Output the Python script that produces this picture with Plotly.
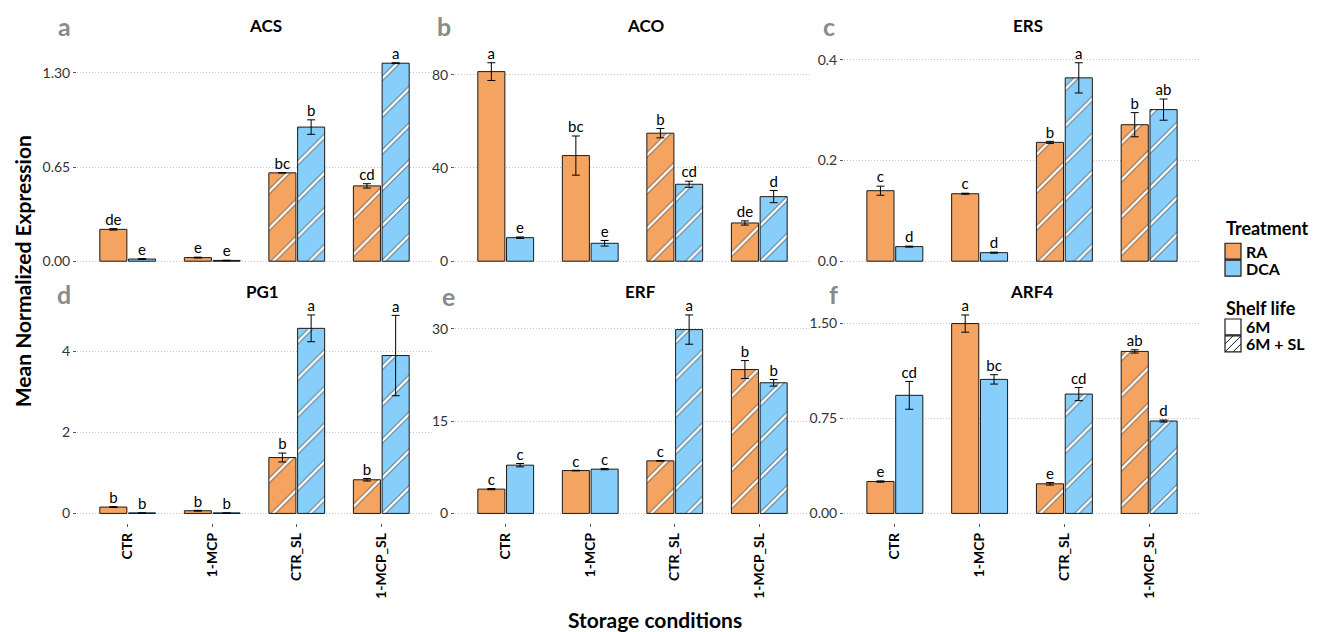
import plotly.graph_objects as go

# ---------------- data ----------------
categories = ["CTR", "1-MCP", "CTR_SL", "1-MCP_SL"]
shelf_life = ["6M", "6M", "6M + SL", "6M + SL"]
genes = ["ACS", "ACO", "ERS", "PG1", "ERF", "ARF4"]
panel_tags = ["a", "b", "c", "d", "e", "f"]

acs_ra = [0.22, 0.025, 0.61, 0.52]
acs_ra_err = [0.005, 0.003, 0.0, 0.015]
acs_dca = [0.015, 0.005, 0.926, 1.367]
acs_dca_err = [0.003, 0.002, 0.05, 0.003]
acs_ra_let = ["de", "e", "bc", "cd"]
acs_dca_let = ["e", "e", "b", "a"]

aco_ra = [81.3, 45.3, 54.9, 16.4]
aco_ra_err = [3.8, 8.4, 2.0, 0.9]
aco_dca = [10.1, 7.7, 33.0, 27.7]
aco_dca_err = [0.3, 1.2, 1.3, 2.6]
aco_ra_let = ["a", "bc", "b", "de"]
aco_dca_let = ["e", "e", "cd", "d"]

ers_ra = [0.140, 0.134, 0.236, 0.271]
ers_ra_err = [0.009, 0.001, 0.002, 0.024]
ers_dca = [0.029, 0.017, 0.364, 0.301]
ers_dca_err = [0.001, 0.001, 0.030, 0.021]
ers_ra_let = ["c", "c", "b", "b"]
ers_dca_let = ["d", "d", "a", "ab"]

pg1_ra = [0.157, 0.066, 1.377, 0.829]
pg1_ra_err = [0.01, 0.01, 0.11, 0.03]
pg1_dca = [0.01, 0.01, 4.56, 3.89]
pg1_dca_err = [0.002, 0.002, 0.33, 0.99]
pg1_ra_let = ["b", "b", "b", "b"]
pg1_dca_let = ["b", "b", "a", "a"]

erf_ra = [3.95, 6.97, 8.55, 23.4]
erf_ra_err = [0.1, 0.05, 0.05, 1.46]
erf_dca = [7.85, 7.2, 29.9, 21.25]
erf_dca_err = [0.27, 0.1, 2.38, 0.54]
erf_ra_let = ["c", "c", "c", "b"]
erf_dca_let = ["c", "c", "a", "b"]

arf4_ra = [0.252, 1.50, 0.234, 1.28]
arf4_ra_err = [0.005, 0.068, 0.01, 0.013]
arf4_dca = [0.933, 1.059, 0.943, 0.73]
arf4_dca_err = [0.11, 0.037, 0.052, 0.008]
arf4_ra_let = ["e", "a", "e", "ab"]
arf4_dca_let = ["cd", "bc", "cd", "d"]

ytick_vals = {
    "ACS": [0, 0.65, 1.30], "ACO": [0, 40, 80], "ERS": [0, 0.2, 0.4],
    "PG1": [0, 2, 4], "ERF": [0, 15, 30], "ARF4": [0, 0.75, 1.50],
}
ytick_text = {
    "ACS": ["0.00", "0.65", "1.30"], "ACO": ["0", "40", "80"], "ERS": ["0.0", "0.2", "0.4"],
    "PG1": ["0", "2", "4"], "ERF": ["0", "15", "30"], "ARF4": ["0.00", "0.75", "1.50"],
}

panel_data = {
    "ACS": (acs_ra, acs_ra_err, acs_dca, acs_dca_err, acs_ra_let, acs_dca_let),
    "ACO": (aco_ra, aco_ra_err, aco_dca, aco_dca_err, aco_ra_let, aco_dca_let),
    "ERS": (ers_ra, ers_ra_err, ers_dca, ers_dca_err, ers_ra_let, ers_dca_let),
    "PG1": (pg1_ra, pg1_ra_err, pg1_dca, pg1_dca_err, pg1_ra_let, pg1_dca_let),
    "ERF": (erf_ra, erf_ra_err, erf_dca, erf_dca_err, erf_ra_let, erf_dca_let),
    "ARF4": (arf4_ra, arf4_ra_err, arf4_dca, arf4_dca_err, arf4_ra_let, arf4_dca_let),
}

# ---------------- style ----------------
W, H = 1321, 632
FONT = "Lato, 'Open Sans', sans-serif"
COL_RA = "#F4A460"
COL_DCA = "#87CEFA"
OUTLINE = "#1a1a1a"
TXT = "#333333"
BAR_W = 0.32
OFF = 0.17
PAT_SIZE = 26


def px(x):
    return x / W


def py(y):
    return 1 - y / H


col_x = [(77, 432), (455, 810), (844, 1200)]
row_y = [(51, 270), (304, 523)]

fig = go.Figure()
layout = dict(
    width=W, height=H, autosize=False,
    margin=dict(l=0, r=0, t=0, b=0),
    paper_bgcolor="white", plot_bgcolor="white",
    barmode="overlay", showlegend=False,
    font=dict(family=FONT, color=TXT),
)

annotations = []
shapes = []

for k, gene in enumerate(genes):
    r, c = divmod(k, 3)
    ax = "" if k == 0 else str(k + 1)
    xa, ya = "x" + ax, "y" + ax
    ra, ra_err, dca, dca_err, ra_let, dca_let = panel_data[gene]
    shapes_pat = ["" if s == "6M" else "/" for s in shelf_life]
    ymax = max([v + e for v, e in zip(ra, ra_err)] + [v + e for v, e in zip(dca, dca_err)])

    for vals, errs, lets, color, sgn in [
        (ra, ra_err, ra_let, COL_RA, -1),
        (dca, dca_err, dca_let, COL_DCA, 1),
    ]:
        xs = [i + sgn * OFF for i in range(len(categories))]
        # base bar: fill colour + dark stripe (edges of the hatch)
        fig.add_trace(go.Bar(
            x=xs, y=vals, width=BAR_W, xaxis=xa, yaxis=ya,
            marker=dict(color=color, line=dict(width=0),
                        pattern=dict(shape=shapes_pat, fgcolor="#333333", bgcolor=color,
                                     size=PAT_SIZE, solidity=0.17, fillmode="overlay")),
            hoverinfo="skip",
        ))
        # top bar: white stripe core, outline, error bars
        fig.add_trace(go.Bar(
            x=xs, y=vals, width=BAR_W, xaxis=xa, yaxis=ya,
            marker=dict(color="rgba(0,0,0,0)", line=dict(width=1, color=OUTLINE),
                        pattern=dict(shape=shapes_pat, fgcolor="white",
                                     bgcolor="rgba(0,0,0,0)", size=PAT_SIZE,
                                     solidity=0.09, fillmode="replace")),
            error_y=dict(type="data", array=errs, visible=True, color="black",
                         thickness=1, width=4),
            hoverinfo="skip",
        ))
        fig.add_trace(go.Scatter(
            x=xs, y=[v + e for v, e in zip(vals, errs)], xaxis=xa, yaxis=ya,
            mode="text", text=lets, textposition="top center",
            textfont=dict(size=15, color="black", family=FONT),
            cliponaxis=False, hoverinfo="skip",
        ))

    x0, x1 = col_x[c]
    y0, y1 = row_y[r]
    layout["xaxis" + ax] = dict(
        domain=[px(x0), px(x1)], anchor=ya, range=[-0.6, 3.6],
        tickvals=list(range(len(categories))), ticktext=categories,
        showticklabels=(r == 1), ticks="outside" if r == 1 else "",
        ticklen=3, tickcolor="#555", tickangle=-90,
        tickfont=dict(size=14, color="black", family=FONT, weight="bold"),
        showgrid=False, zeroline=False, showline=False, fixedrange=True,
    )
    layout["yaxis" + ax] = dict(
        domain=[py(y1), py(y0)], anchor=xa,
        range=[-0.05 * ymax, 1.05 * ymax],
        tickvals=ytick_vals[gene], ticktext=ytick_text[gene],
        ticks="outside", ticklen=3, tickcolor="#555",
        tickfont=dict(size=14, color=TXT, family=FONT),
        showgrid=True, gridcolor="#c4c4c4", griddash="1px,2px", gridwidth=1,
        zeroline=False, showline=False, fixedrange=True,
    )

# titles and panel tags
title_pos = [(265, 24), (645, 24), (1028, 24), (262, 290), (640, 290), (1031, 290)]
tag_pos = [(64, 24), (444, 24), (829, 24), (64, 293), (448, 295), (833, 293)]
for gene, tag, (tx, ty), (gx, gy) in zip(genes, panel_tags, title_pos, tag_pos):
    annotations.append(dict(x=px(tx), y=py(ty), xref="paper", yref="paper", text=gene,
                            showarrow=False, xanchor="center", yanchor="middle",
                            font=dict(size=17, color="black", family=FONT, weight="bold")))
    annotations.append(dict(x=px(gx), y=py(gy), xref="paper", yref="paper", text=tag,
                            showarrow=False, xanchor="center", yanchor="middle",
                            font=dict(size=25, color="#8a8a8a", family=FONT, weight="bold")))

# axis titles
annotations.append(dict(x=px(22), y=py(270), xref="paper", yref="paper",
                        text="Mean Normalized Expression", textangle=-90, showarrow=False,
                        xanchor="center", yanchor="middle",
                        font=dict(size=21, color="black", family=FONT, weight="bold")))
annotations.append(dict(x=px(655), y=py(619), xref="paper", yref="paper",
                        text="Storage conditions", showarrow=False,
                        xanchor="center", yanchor="middle",
                        font=dict(size=21, color="black", family=FONT, weight="bold")))

# legend (drawn manually)
LX = 1225
BOX = 16
legend_items = [
    ("Treatment", 227, None),
    ("RA", 250, ("fill", COL_RA)),
    ("DCA", 267, ("fill", COL_DCA)),
    ("Shelf life", 307, None),
    ("6M", 326, ("fill", "white")),
    ("6M + SL", 343, ("hatch", "white")),
]
for label, yc, box in legend_items:
    if box is None:
        annotations.append(dict(x=px(LX - 1), y=py(yc), xref="paper", yref="paper", text=label,
                                showarrow=False, xanchor="left", yanchor="middle",
                                font=dict(size=18, color="black", family=FONT, weight="bold")))
        continue
    kind, fillc = box
    bx0, bx1 = LX, LX + BOX
    by0, by1 = yc - BOX / 2, yc + BOX / 2
    shapes.append(dict(type="rect", xref="paper", yref="paper",
                       x0=px(bx0), x1=px(bx1), y0=py(by1), y1=py(by0),
                       fillcolor=fillc, line=dict(color=OUTLINE, width=1.2)))
    if kind == "hatch":
        for d in (-8, 0, 8):
            if d >= 0:
                sx0, sy0, sx1, sy1 = bx0 + d, by1, bx1, by0 + d
            else:
                sx0, sy0, sx1, sy1 = bx0, by1 + d, bx1 + d, by0
            shapes.append(dict(type="line", xref="paper", yref="paper",
                               x0=px(sx0), y0=py(sy0), x1=px(sx1), y1=py(sy1),
                               line=dict(color=OUTLINE, width=1)))
    annotations.append(dict(x=px(bx1 + 3), y=py(yc), xref="paper", yref="paper", text=label,
                            showarrow=False, xanchor="left", yanchor="middle",
                            font=dict(size=16, color="black", family=FONT, weight="bold")))

layout["annotations"] = annotations
layout["shapes"] = shapes
fig.update_layout(**layout)
fig.write_html("out.html")
